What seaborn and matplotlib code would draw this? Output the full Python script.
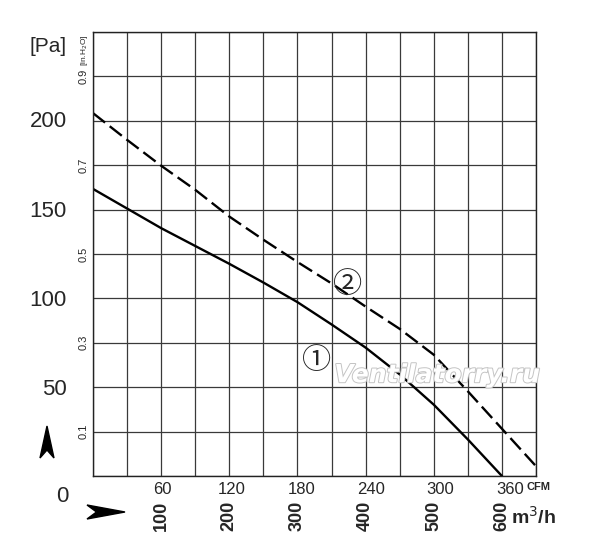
import matplotlib
matplotlib.use('Agg')
import matplotlib.pyplot as plt
import matplotlib.patheffects as pe
from matplotlib.patches import Polygon
import matplotlib.transforms as mtransforms
import seaborn as sns
import numpy as np

# ── Data ──────────────────────────────────────────────────────────
flow_m3h   = [0, 50, 100, 150, 200, 250, 300, 350, 400, 450, 500, 550, 600, 650]
curve1_pa  = [161, 150, 139, 129, 119, 108.5, 97.5, 85, 72, 57, 40, 20.5, 0]
curve2_pa  = [203.5, 188.5, 174, 160.5, 145.5, 132.5, 120, 108, 95, 82.5, 68, 47.5, 26.5, 5.5]

pa_ticks    = [50, 100, 150, 200]
inh2o_ticks = [0.1, 0.3, 0.5, 0.7, 0.9]
cfm_ticks   = [60, 120, 180, 240, 300, 360]
m3h_labels  = [100, 200, 300, 400, 500, 600]

PA_PER_INH2O = 249.0
M3H_PER_CFM = 1.699

# ── Style ─────────────────────────────────────────────────────────
sns.set_style('white')
FONT = ['Liberation Sans', 'DejaVu Sans']
plt.rcParams['font.family'] = FONT

fig = plt.figure(figsize=(6, 5.53), dpi=100)
ax = fig.add_axes([93/600, 1 - 476/553, 443/600, 444/553])

sns.lineplot(x=flow_m3h[:len(curve1_pa)], y=curve1_pa, ax=ax,
             color='black', linewidth=1.7, sort=False)
sns.lineplot(x=flow_m3h[:len(curve2_pa)], y=curve2_pa, ax=ax,
             color='black', linewidth=1.7, sort=False)
ax.lines[1].set_dashes((6.5, 2.5))

ax.set_xlim(0, 650)
ax.set_ylim(0, PA_PER_INH2O)

# grid: every 50 m3/h and every 0.1 in.H2O
ax.set_xticks(np.arange(0, 651, 50), minor=True)
ax.set_yticks(np.array([i / 10 for i in range(11)]) * PA_PER_INH2O, minor=True)
ax.grid(False)
ax.grid(True, which='minor', color='#3a3a3a', linewidth=0.9)
ax.tick_params(which='minor', length=0)
for s in ax.spines.values():
    s.set_color('#222222')
    s.set_linewidth(1.0)

# CFM ticks on the bottom
ax.set_xticks([c * M3H_PER_CFM for c in cfm_ticks])
ax.set_xticklabels([str(c) for c in cfm_ticks], fontsize=12)
ax.tick_params(axis='x', which='major', direction='in', length=4,
               width=0.8, pad=4, color='#333333')

# Pa labels on the left
ax.set_yticks(pa_ticks)
ax.set_yticklabels([str(p) for p in pa_ticks], fontsize=16)
ax.tick_params(axis='y', which='major', length=0, pad=19)

# in.H2O labels next to the axis
sec = ax.secondary_yaxis('left', functions=(lambda p: p / PA_PER_INH2O,
                                            lambda w: w * PA_PER_INH2O))
sec.set_yticks(inh2o_ticks)
sec.set_yticklabels([f'{v:.1f}' for v in inh2o_ticks], rotation=90,
                    va='center', fontsize=8)
sec.tick_params(length=0, pad=3)
sec.spines['left'].set_visible(False)

# m3/h labels, rotated
bx = mtransforms.blended_transform_factory(ax.transData, ax.transAxes)
for v in m3h_labels:
    ax.text(v, -0.09, str(v), transform=bx, rotation=90, ha='center',
            va='center', fontsize=13, fontweight='bold', clip_on=False)
ax.text(614, -0.092, 'm$^3$/h', transform=bx, ha='left', va='center',
        fontsize=14, fontweight='bold', clip_on=False)
ax.text(636, -0.025, 'CFM', transform=bx, ha='left', va='center',
        fontsize=8, fontweight='bold', clip_on=False)

# units and zero label
fig.text(48/600, 1 - 46/553, '[Pa]', ha='center', va='center', fontsize=15)
fig.text(84/600, 1 - 50/553, '[in.H$_2$O]', ha='center', va='center',
         fontsize=6, rotation=90)
fig.text(62/600, 1 - 497/553, '0', ha='center', va='center', fontsize=16)

# arrowheads
def arrowhead(cx, cy, w, h, up):
    if up:
        pts = [(0, h / 2), (w / 2, -h / 2), (0, -h / 4), (-w / 2, -h / 2)]
    else:
        pts = [(w / 2, 0), (-w / 2, h / 2), (-w / 4, 0), (-w / 2, -h / 2)]
    pts = [((cx + x) / 600, 1 - (cy - y) / 553) for x, y in pts]
    fig.patches.append(Polygon(pts, closed=True, facecolor='black',
                               edgecolor='black', transform=fig.transFigure))

arrowhead(47, 442, 14, 32, up=True)
arrowhead(106, 512, 38, 14, up=False)

# curve numbers
CIRC = ['DejaVu Serif', 'Noto Sans CJK JP']
ax.text(374, 107, '②', fontsize=21, ha='center', va='center', family=CIRC)
ax.text(328, 64.5, '①', fontsize=21, ha='center', va='center', family=CIRC)

# watermark
ax.text(0.777, 0.227, 'Ventilatorry.ru', transform=ax.transAxes,
        ha='center', va='center', fontsize=18, style='italic',
        fontweight='bold', color='white', family=['DejaVu Sans'],
        path_effects=[pe.withStroke(linewidth=1.4, foreground='#c4c4c4')])

plt.savefig('out.png', dpi=100)
